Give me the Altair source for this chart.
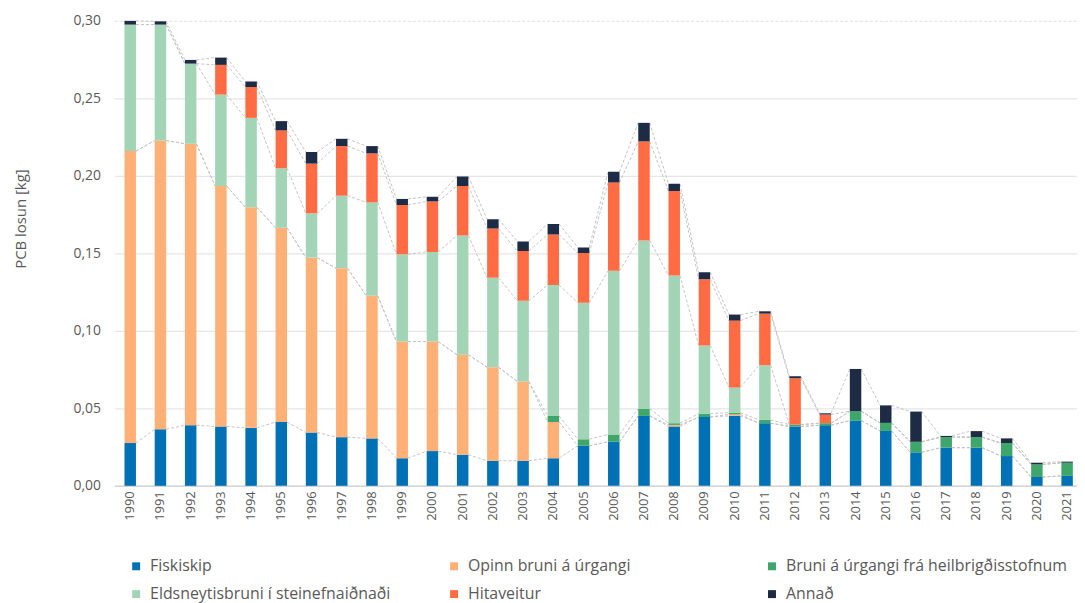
import altair as alt
import pandas as pd

years = list(range(1990, 2022))
series = ["Fiskiskip", "Opinn bruni á úrgangi", "Bruni á úrgangi frá heilbrigðisstofnum",
          "Eldsneytisbruni í steinefnaiðnaði", "Hitaveitur", "Annað"]
colors = ["#0071b5", "#ffb077", "#3fa66b", "#a3d4b6", "#ff6b42", "#1e2b45"]

fiskiskip = [.0276, .0365, .0391, .0383, .0374, .0412, .0344, .0314, .0306, .0178, .0224, .0201, .0162, .0162,
             .0178, .0258, .0284, .0451, .0383, .0444, .0451, .0404, .0383, .0391, .0421, .0354, .0216, .0246,
             .0246, .0192, .0057, .0064]
opinn = [.1884, .1863, .1816, .1551, .1423, .1253, .1128, .1090, .0920, .0753, .0707, .0645, .0603, .0511,
         .0234, 0, 0, 0, .0010, 0, .0010, 0, 0, 0, 0, 0, 0, 0, 0, 0, 0, 0]
heilbr = [0, 0, 0, 0, 0, 0, 0, 0, 0, 0, 0, 0, 0, 0,
          .0039, .0043, .0047, .0047, .0011, .0022, .0011, .0021, .0012, .0013, .0060, .0052, .0068, .0068,
          .0068, .0084, .0081, .0085]
eldsn = [.0816, .0748, .0517, .0590, .0577, .0384, .0286, .0468, .0603, .0563, .0578, .0769, .0577, .0521,
         .0844, .0880, .1056, .1085, .0953, .0440, .0163, .0353, 0, 0, 0, 0, 0, 0, 0, 0, 0, 0]
hitav = [0, 0, 0, .0192, .0199, .0244, .0321, .0320, .0316, .0318, .0326, .0319, .0318, .0321,
         .0327, .0321, .0570, .0639, .0545, .0427, .0431, .0333, .0299, .0056, 0, 0, 0, 0, 0, 0, 0, 0]
annad = [.0024, .0021, .0024, .0047, .0036, .0060, .0075, .0047, .0047, .0039, .0030, .0062, .0060, .0062,
         .0068, .0036, .0069, .0120, .0047, .0045, .0039, .0015, .0013, .0008, .0273, .0113, .0195, .0008,
         .0039, .0030, .0011, .0007]

values = [fiskiskip, opinn, heilbr, eldsn, hitav, annad]

rows = []
for si, (name, vals) in enumerate(zip(series, values)):
    for y, v in zip(years, vals):
        rows.append({"year": str(y), "series": name, "order": si, "value": v})
df = pd.DataFrame(rows)

# series lines (cumulative tops between consecutive bars)
lines = []
for si in range(len(series)):
    cum = [sum(values[k][i] for k in range(si + 1)) for i in range(len(years))]
    for i in range(len(years) - 1):
        lines.append({"year": str(years[i]), "next": str(years[i + 1]),
                      "top": cum[i], "ntop": cum[i + 1], "s": si})
dl = pd.DataFrame(lines)

FONT = "Open Sans"
GREY = "#595959"

xscale = alt.Scale(domain=[str(y) for y in years], paddingInner=0.62, paddingOuter=0.237, align=0.71)
yscale = alt.Scale(domain=[0, 0.30], nice=False)

bars = alt.Chart(df).mark_bar().encode(
    x=alt.X("year:N", scale=xscale, sort=None,
            axis=alt.Axis(title=None, labelAngle=-90, labelColor=GREY, labelFontSize=13, labelFont=FONT,
                          ticks=False, domainColor="#d4d4d4", domainWidth=1.5, labelPadding=5, grid=False)),
    y=alt.Y("value:Q", stack="zero", scale=yscale,
            axis=alt.Axis(title="PCB losun [kg]", values=[0, 0.05, 0.10, 0.15, 0.20, 0.25, 0.30],
                          labelExpr="replace(format(datum.value, '.2f'), '.', ',')",
                          labelColor=GREY, labelFontSize=14, labelFont=FONT, labelPadding=14,
                          ticks=False, domain=False, gridColor="#e6e6e6", gridWidth=1.2,
                          gridDash=alt.condition("datum.value >= 0.3", alt.value([3, 2]), alt.value([])),
                          titleColor=GREY, titleFont=FONT, titleFontSize=15, titleFontWeight="normal",
                          titleX=-94, titleY=199, titleAngle=270, titleAlign="center", titleBaseline="middle")),
    color=alt.Color("series:N", scale=alt.Scale(domain=series, range=colors),
                    legend=alt.Legend(title=None, orient="none", legendX=12, legendY=541, columns=3,
                                      direction="horizontal", gridAlign="all", columnPadding=12,
                                      rowPadding=12, symbolType="square", symbolSize=64,
                                      symbolStrokeWidth=0, labelFont=FONT, labelFontSize=16,
                                      labelColor=GREY, labelLimit=400, symbolOffset=2, labelOffset=6)),
    order=alt.Order("order:Q", sort="ascending"),
)

rules = alt.Chart(dl).mark_rule(color="#c4c4c4", strokeDash=[3, 2], strokeWidth=1).encode(
    x=alt.X("year:N", scale=xscale, bandPosition=1, sort=None),
    x2=alt.X2("next", bandPosition=0),
    y=alt.Y("top:Q", scale=yscale),
    y2="ntop:Q",
)

chart = alt.layer(rules, bars).properties(
    width=969, height=468,
    autosize=alt.AutoSizeParams(type="none"),
    padding={"left": 107, "top": 11, "right": 0, "bottom": 116},
).configure_view(stroke=None).configure_axis(labelFont=FONT)

chart.save("out.html", embed_options={"renderer": "svg", "actions": False})
